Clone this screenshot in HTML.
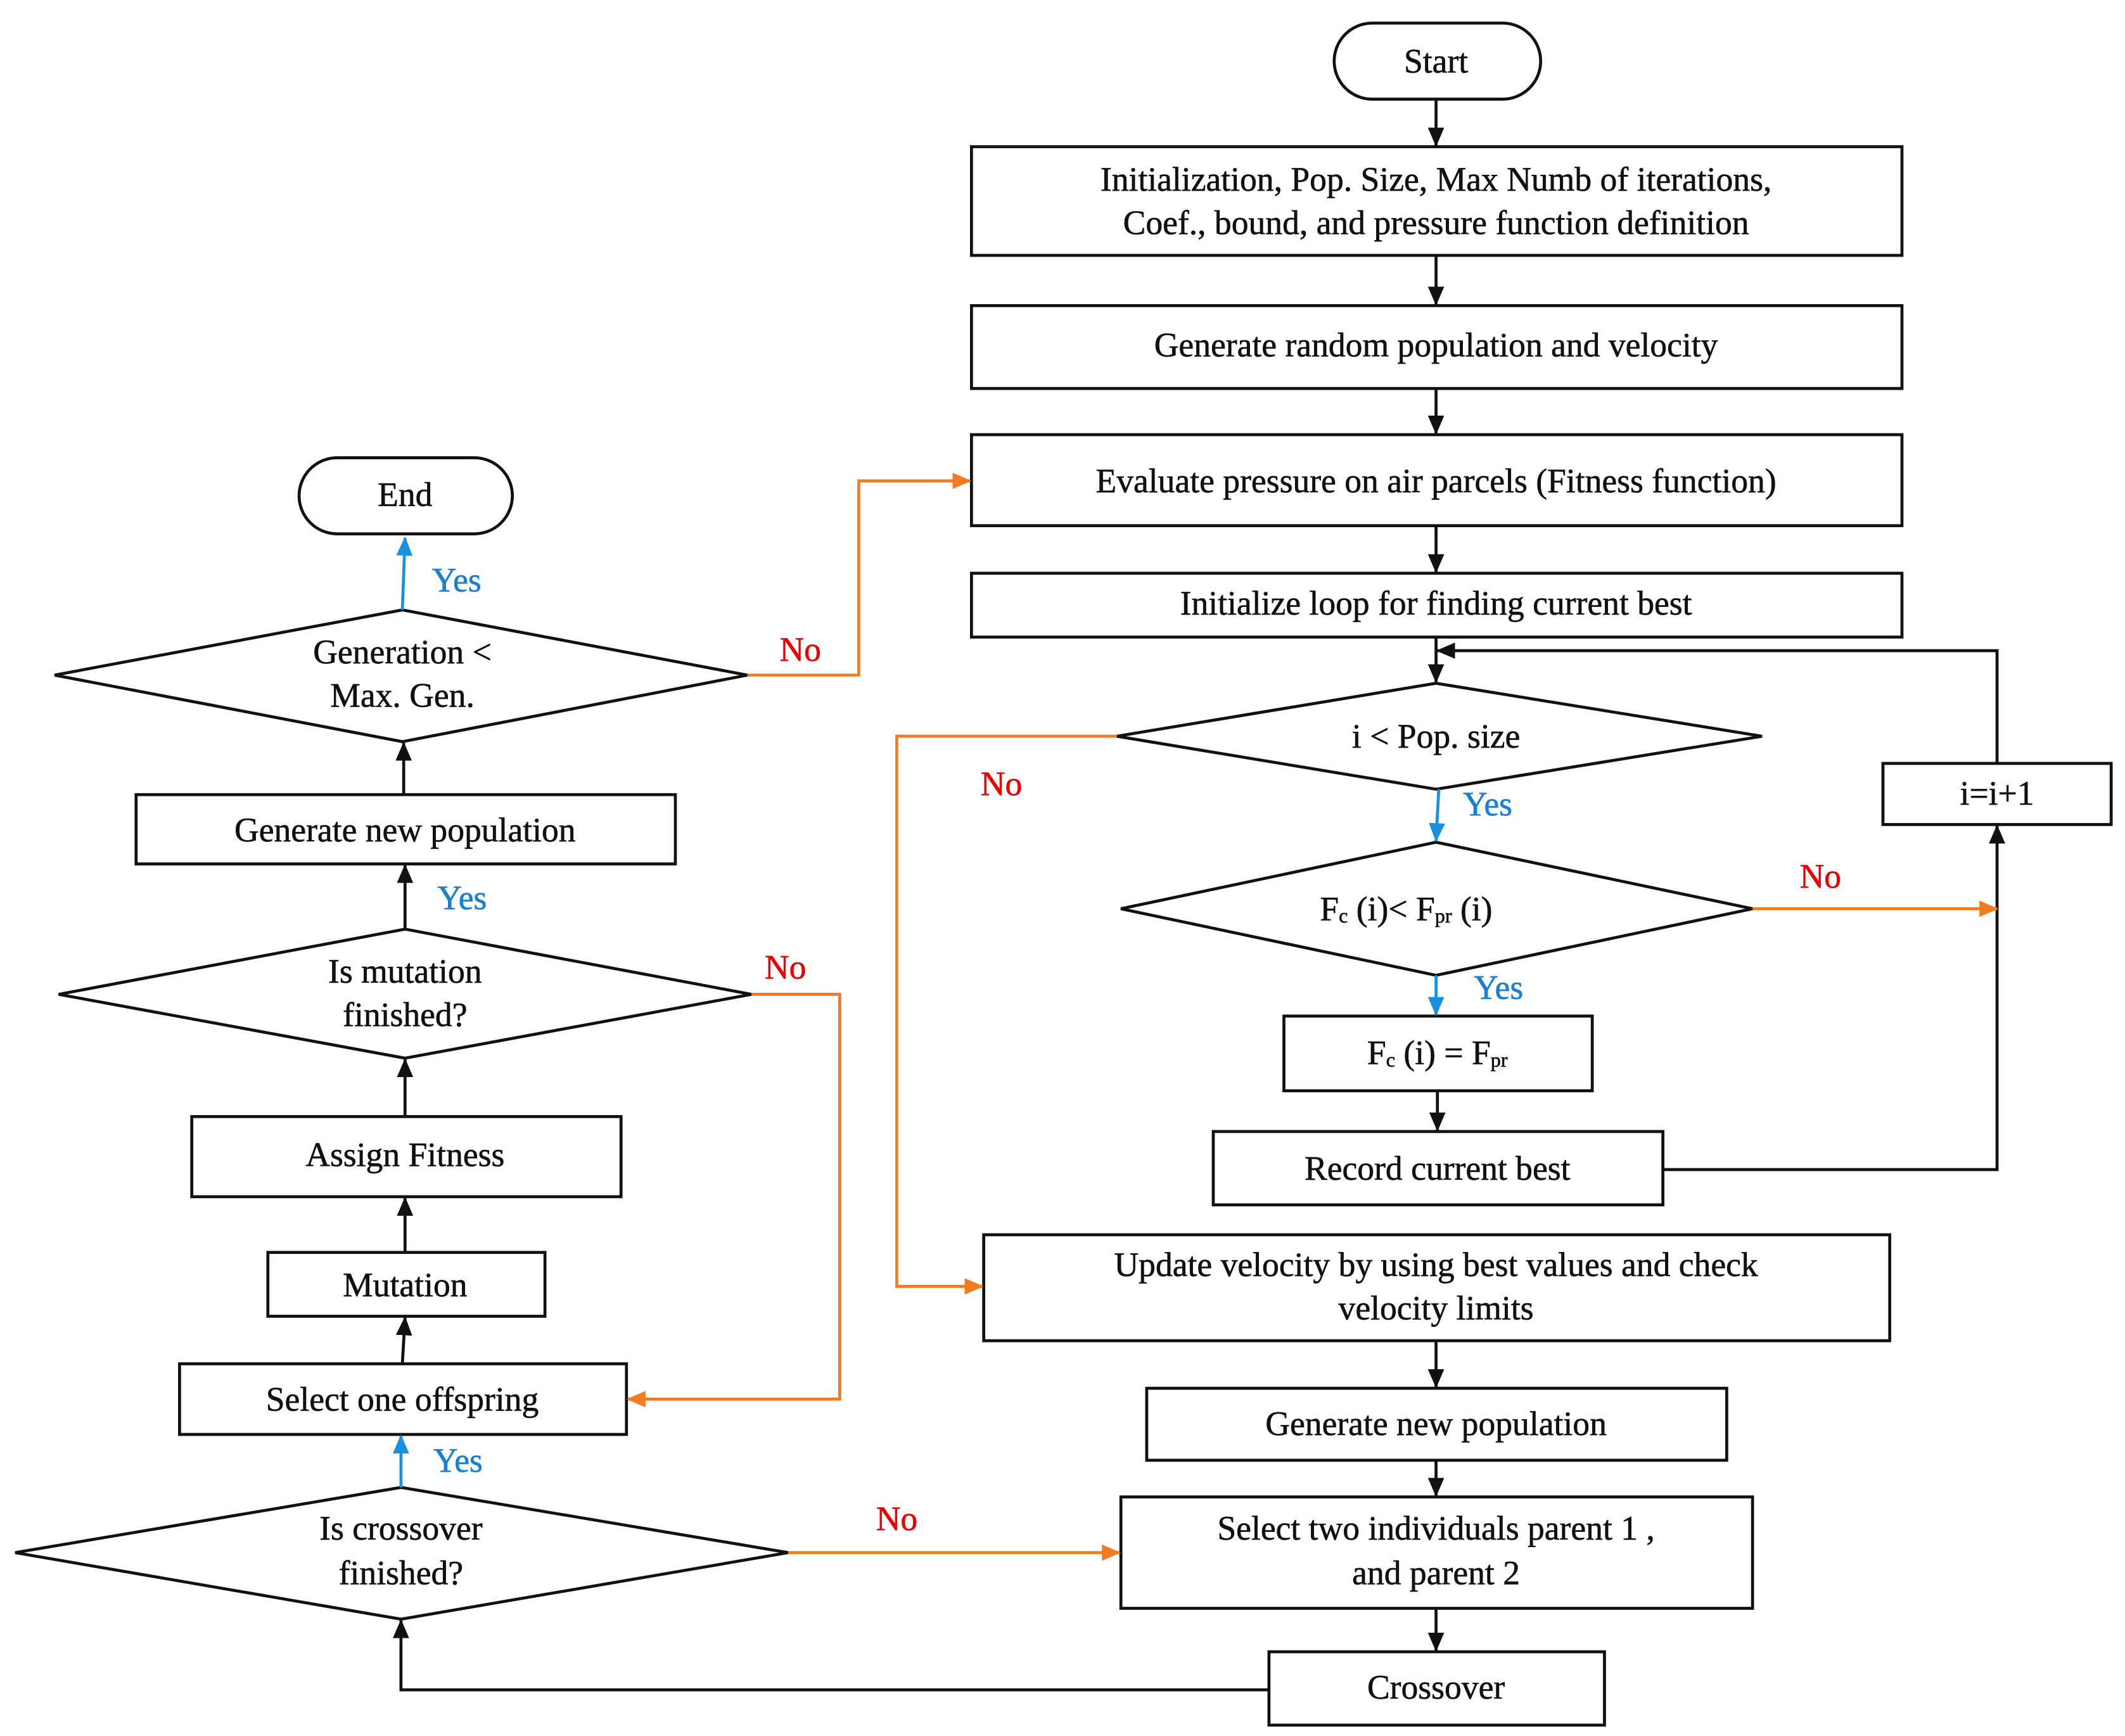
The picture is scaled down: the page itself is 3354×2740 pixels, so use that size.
<!DOCTYPE html>
<html><head><meta charset="utf-8"><style>
html,body{margin:0;padding:0;background:#fff;}
svg{display:block;}
text{font-family:"Liberation Serif",serif;font-size:25px;fill:#111;text-anchor:middle;dominant-baseline:central;stroke:#111;stroke-width:0.3px;}
.r{fill:#e00;stroke:#e00;}.b{fill:#1a7fd4;stroke:#1a7fd4;}
</style></head><body>
<svg width="3354" height="2740" viewBox="0 0 1564 1278" xmlns="http://www.w3.org/2000/svg">
<defs>
<marker id="ak" markerWidth="14" markerHeight="12" refX="13" refY="6" orient="auto" markerUnits="userSpaceOnUse"><path d="M0,0 L14,6 L0,12 z" fill="#111"/></marker>
<marker id="ao" markerWidth="14" markerHeight="12" refX="13" refY="6" orient="auto" markerUnits="userSpaceOnUse"><path d="M0,0 L14,6 L0,12 z" fill="#f47a20"/></marker>
<marker id="ab" markerWidth="14" markerHeight="12" refX="13" refY="6" orient="auto" markerUnits="userSpaceOnUse"><path d="M0,0 L14,6 L0,12 z" fill="#1a90e0"/></marker>
</defs>
<g fill="#fff" stroke="#111" stroke-width="2.2">
<rect x="982" y="17" width="152" height="56" rx="28"/>
<rect x="715" y="108" width="685" height="80"/>
<rect x="715" y="225" width="685" height="61"/>
<rect x="715" y="320" width="685" height="67"/>
<rect x="715" y="422" width="685" height="47"/>
<polygon points="822,542 1057,503 1297,542 1057,581"/>
<polygon points="825,669 1057,620 1290,669 1057,718"/>
<rect x="1386" y="562" width="168" height="45"/>
<rect x="945" y="748" width="227" height="55"/>
<rect x="893" y="833" width="331" height="54"/>
<rect x="724" y="909" width="667" height="78"/>
<rect x="844" y="1022" width="427" height="53"/>
<rect x="825" y="1102" width="465" height="82"/>
<rect x="934" y="1216" width="247" height="54"/>
<polygon points="11,1143 295,1095 580,1143 295,1192"/>
<rect x="132" y="1004" width="329" height="52"/>
<rect x="197" y="922" width="204" height="47"/>
<rect x="141" y="822" width="316" height="59"/>
<polygon points="43,732 298,684 553,732 298,779"/>
<rect x="100" y="585" width="397" height="51"/>
<polygon points="40,497 296,449 550,497 296,546"/>
<rect x="220" y="337" width="157" height="56" rx="28"/>
</g>
<g fill="none" stroke="#111" stroke-width="2.2">
<line x1="1057" y1="73" x2="1057" y2="107" marker-end="url(#ak)"/>
<line x1="1057" y1="188" x2="1057" y2="224" marker-end="url(#ak)"/>
<line x1="1057" y1="286" x2="1057" y2="319" marker-end="url(#ak)"/>
<line x1="1057" y1="387" x2="1057" y2="421" marker-end="url(#ak)"/>
<line x1="1057" y1="469" x2="1057" y2="502" marker-end="url(#ak)"/>
<polyline points="1470,562 1470,479 1058,479" marker-end="url(#ak)"/>
<polyline points="1224,861 1470,861 1470,608" marker-end="url(#ak)"/>
<line x1="1058" y1="803" x2="1058" y2="832" marker-end="url(#ak)"/>
<line x1="1057" y1="987" x2="1057" y2="1021" marker-end="url(#ak)"/>
<line x1="1057" y1="1075" x2="1057" y2="1101" marker-end="url(#ak)"/>
<line x1="1057" y1="1184" x2="1057" y2="1215" marker-end="url(#ak)"/>
<polyline points="934,1244 295,1244 295,1193" marker-end="url(#ak)"/>
<line x1="296" y1="1004" x2="298" y2="970" marker-end="url(#ak)"/>
<line x1="298" y1="922" x2="298" y2="882" marker-end="url(#ak)"/>
<line x1="298" y1="822" x2="298" y2="780" marker-end="url(#ak)"/>
<line x1="298" y1="684" x2="298" y2="637" marker-end="url(#ak)"/>
<line x1="297" y1="585" x2="297" y2="547" marker-end="url(#ak)"/>
</g>
<g fill="none" stroke="#f47a20" stroke-width="2.2">
<polyline points="550,497 632,497 632,354 714,354" marker-end="url(#ao)"/>
<polyline points="822,542 660,542 660,947 723,947" marker-end="url(#ao)"/>
<line x1="1290" y1="669" x2="1470" y2="669" marker-end="url(#ao)"/>
<polyline points="553,732 618,732 618,1030 462,1030" marker-end="url(#ao)"/>
<line x1="580" y1="1143" x2="824" y2="1143" marker-end="url(#ao)"/>
</g>
<g fill="none" stroke="#1a90e0" stroke-width="2.2">
<line x1="1059" y1="581" x2="1057" y2="619" marker-end="url(#ab)"/>
<line x1="1057" y1="718" x2="1057" y2="747" marker-end="url(#ab)"/>
<line x1="295" y1="1095" x2="295" y2="1057" marker-end="url(#ab)"/>
<line x1="296" y1="449" x2="298" y2="396" marker-end="url(#ab)"/>
</g>
<text x="1057" y="45">Start</text>
<text x="1057" y="132">Initialization, Pop. Size, Max Numb of iterations,</text>
<text x="1057" y="164">Coef.,  bound, and pressure function definition</text>
<text x="1057" y="254">Generate random population and velocity</text>
<text x="1057" y="354">Evaluate pressure on air parcels (Fitness function)</text>
<text x="1057" y="444">Initialize loop for finding current best</text>
<text x="1057" y="542">i &lt; Pop. size</text>
<text x="1035" y="669">F<tspan font-size="15" dy="5">c</tspan><tspan dy="-5"> (i)&lt; F</tspan><tspan font-size="15" dy="5">pr</tspan><tspan dy="-5"> (i)</tspan></text>
<text x="1470" y="584">i=i+1</text>
<text x="1058" y="775">F<tspan font-size="15" dy="5">c</tspan><tspan dy="-5"> (i)  = F</tspan><tspan font-size="15" dy="5">pr</tspan></text>
<text x="1058" y="860">Record current best</text>
<text x="1057" y="931">Update velocity by using best values and check</text>
<text x="1057" y="963">velocity limits</text>
<text x="1057" y="1048">Generate new population</text>
<text x="1057" y="1125">Select two individuals parent 1 ,</text>
<text x="1057" y="1158">and parent 2</text>
<text x="1057" y="1242">Crossover</text>
<text x="295" y="1125">Is crossover</text>
<text x="295" y="1158">finished?</text>
<text x="296" y="1030">Select one offspring</text>
<text x="298" y="946">Mutation</text>
<text x="298" y="850">Assign Fitness</text>
<text x="298" y="715">Is mutation</text>
<text x="298" y="747">finished?</text>
<text x="298" y="611">Generate new population</text>
<text x="296" y="480">Generation &lt;</text>
<text x="296" y="512">Max. Gen.</text>
<text x="298" y="364">End</text>
<text class="b" x="336" y="427">Yes</text>
<text class="b" x="340" y="661">Yes</text>
<text class="b" x="337" y="1075">Yes</text>
<text class="b" x="1095" y="592">Yes</text>
<text class="b" x="1103" y="727">Yes</text>
<text class="r" x="589" y="478">No</text>
<text class="r" x="737" y="577">No</text>
<text class="r" x="1340" y="645">No</text>
<text class="r" x="578" y="712">No</text>
<text class="r" x="660" y="1118">No</text>
</svg>
</body></html>
